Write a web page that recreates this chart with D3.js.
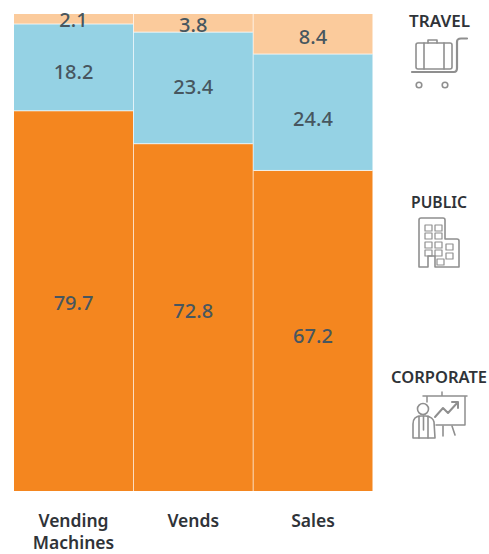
<!DOCTYPE html>
<html>
<head>
<meta charset="utf-8">
<script src="https://cdn.jsdelivr.net/npm/d3@7/dist/d3.min.js"></script>
<style>
  html, body { margin: 0; padding: 0; background: #fff; }
  svg { display: block; }
  text { font-family: "Noto Sans", sans-serif; }
</style>
</head>
<body>
<svg id="chart" width="489" height="554"></svg>
<script>
// Share of each business segment, in percent
const categories = ["Vending Machines", "Vends", "Sales"];
const segments = ["CORPORATE", "PUBLIC", "TRAVEL"];
const corporate = [79.7, 72.8, 67.2];
const publicSector = [18.2, 23.4, 24.4];
const travel = [2.1, 3.8, 8.4];
const colours = ["#f4861f", "#95d2e4", "#fbcb9c"];

// Vertical tweak of each value label away from its segment's middle, in pixels
const corporateNudge = [2, -7, 5];
const publicNudge = [4, -1, 7];
const travelNudge = [1, 2, 3];

const svg = d3.select("#chart");
const x = d3.scaleBand().domain(categories).range([14, 372.5]).paddingInner(0.006);
const y = d3.scaleLinear().domain([0, 100]).range([491, 14]);

const rows = categories.map((name, i) => ({
  name, CORPORATE: corporate[i], PUBLIC: publicSector[i], TRAVEL: travel[i]
}));
const layers = d3.stack().keys(segments)(rows);
const nudges = [corporateNudge, publicNudge, travelNudge];

// Stacked columns
svg.selectAll("g.layer").data(layers).join("g")
  .attr("class", "layer")
  .attr("fill", (d, i) => colours[i])
  .selectAll("rect").data(d => d).join("rect")
  .attr("x", d => x(d.data.name))
  .attr("width", x.bandwidth())
  .attr("y", d => y(d[1]))
  .attr("height", d => y(d[0]) - y(d[1]));

// Thin white seam where two segments meet
layers.slice(0, 2).forEach(layer => {
  svg.append("g").selectAll("line").data(layer).join("line")
    .attr("x1", d => x(d.data.name))
    .attr("x2", d => x(d.data.name) + x.bandwidth())
    .attr("y1", d => y(d[1]))
    .attr("y2", d => y(d[1]))
    .attr("stroke", "#fff").attr("stroke-opacity", 0.75).attr("stroke-width", 1);
});

// Value labels
layers.forEach((layer, li) => {
  svg.append("g").selectAll("text").data(layer).join("text")
    .attr("x", d => x(d.data.name) + x.bandwidth() / 2)
    .attr("y", (d, i) => (y(d[0]) + y(d[1])) / 2 + nudges[li][i])
    .attr("dy", "0.36em")
    .attr("text-anchor", "middle")
    .attr("font-size", 20)
    .attr("font-weight", 500)
    .attr("fill", "#47565f")
    .text(d => (d[1] - d[0]).toFixed(1));
});

// Category labels, wrapped at the space
const axisG = svg.append("g");
categories.forEach(name => {
  const t = axisG.append("text")
    .attr("text-anchor", "middle")
    .attr("font-size", 17.5)
    .attr("font-weight", 600)
    .attr("fill", "#2f3338");
  name.split(" ").forEach((w, i) => {
    t.append("tspan")
      .attr("x", x(name) + x.bandwidth() / 2)
      .attr("y", 526.5 + i * 22)
      .text(w);
  });
});

// Legend headings
const legendTitles = [
  { label: "TRAVEL", cx: 439.5, y: 27, width: 61 },
  { label: "PUBLIC", cx: 439, y: 208, width: 56 },
  { label: "CORPORATE", cx: 439, y: 383, width: 96 }
];
svg.append("g").selectAll("text").data(legendTitles).join("text")
  .attr("x", d => d.cx)
  .attr("y", d => d.y)
  .attr("text-anchor", "middle")
  .attr("font-size", 16)
  .attr("font-weight", 600)
  .attr("fill", "#2f3338")
  .attr("textLength", d => d.width)
  .attr("lengthAdjust", "spacingAndGlyphs")
  .text(d => d.label);

// Legend pictograms
const icon = (tx, ty) => svg.append("g")
  .attr("transform", `translate(${tx},${ty})`)
  .attr("fill", "none")
  .attr("stroke", "#8f8f8f")
  .attr("stroke-width", 1.6)
  .attr("stroke-linejoin", "round")
  .attr("stroke-linecap", "round");

// Luggage trolley
const trolley = icon(380, 0);
trolley.append("path").attr("d", "M48 43V40H57V43");
trolley.append("rect").attr("x", 36).attr("y", 43).attr("width", 36).attr("height", 26).attr("rx", 2);
trolley.append("path").attr("d", "M44 43V69M64 43V69");
trolley.append("path").attr("d", "M32 72H74Q77 72 77 68V42Q77 38.5 81 38.5H87").attr("stroke-width", 2.2);
trolley.append("circle").attr("cx", 39).attr("cy", 85).attr("r", 2.8);
trolley.append("circle").attr("cx", 65).attr("cy", 85).attr("r", 2.8);

// Office building
const building = icon(380, 180);
building.append("path").attr("d", "M39 87V40Q39 38 41 38H63Q65 38 65 40V59H77Q79 59 79 61V87H55V76H48V87Z");
[45, 53, 62, 70].forEach(wy => {
  [45, 55].forEach(wx => {
    building.append("rect").attr("x", wx).attr("y", wy).attr("width", 7).attr("height", 6).attr("stroke-width", 1.2);
  });
});
[[66, 64], [66, 73], [57, 79]].forEach(([wx, wy]) => {
  building.append("rect").attr("x", wx).attr("y", wy).attr("width", 7).attr("height", 6).attr("stroke-width", 1.2);
});

// Presenter beside a rising chart
const presenter = icon(380, 360);
presenter.append("path").attr("d", "M43 36H87M85 36V65H56M47 36V42M62 32V36").attr("stroke-width", 1.5);
presenter.append("path").attr("d", "M55 57L63 48L68 53L78 42M72 42H78V48").attr("stroke-width", 2);
presenter.append("path").attr("d", "M63 66V76M72 66L75 75");
presenter.append("circle").attr("cx", 43).attr("cy", 49).attr("r", 5.5).attr("fill", "#fff");
presenter.append("path").attr("d", "M33 78V64Q33 56 41 56H46Q53 57 54 62L55 78Z").attr("fill", "#fff");
presenter.append("path").attr("d", "M39 56V78M48 56V78M43.5 56V70");
</script>
</body>
</html>
